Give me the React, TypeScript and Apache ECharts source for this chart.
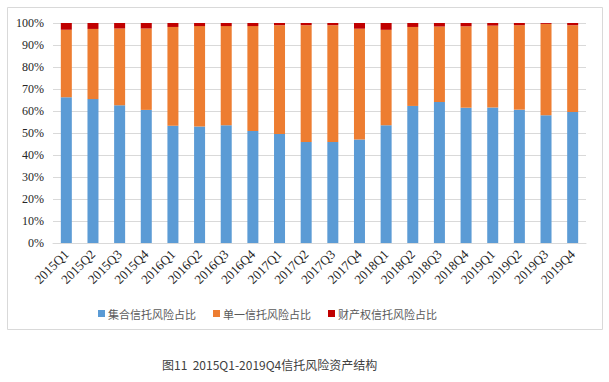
import React, { useEffect, useRef } from "react";
import * as echarts from "echarts";

const categories = [
  "2015Q1", "2015Q2", "2015Q3", "2015Q4",
  "2016Q1", "2016Q2", "2016Q3", "2016Q4",
  "2017Q1", "2017Q2", "2017Q3", "2017Q4",
  "2018Q1", "2018Q2", "2018Q3", "2018Q4",
  "2019Q1", "2019Q2", "2019Q3", "2019Q4",
];
const collective = [66.3, 65.4, 62.6, 60.5, 53.3, 52.9, 53.5, 50.9, 49.5, 45.9, 45.9, 47.1, 53.5, 62.3, 64.1, 61.5, 61.6, 60.6, 58.1, 59.6];
const single = [30.6, 31.9, 34.9, 37.0, 44.9, 45.7, 45.1, 47.7, 49.5, 53.1, 53.1, 50.3, 43.4, 35.9, 34.3, 37.0, 37.2, 38.4, 41.5, 39.4];
const property = [3.1, 2.7, 2.5, 2.5, 1.8, 1.4, 1.4, 1.4, 1.0, 1.0, 1.0, 2.6, 3.1, 1.8, 1.6, 1.5, 1.2, 1.0, 0.4, 1.0];
const seriesNames = ["集合信托风险占比", "单一信托风险占比", "财产权信托风险占比"];
const yTicks = { min: 0, max: 100, interval: 10 };
const caption = "图11  2015Q1-2019Q4信托风险资产结构";

export default function App() {
  const ref = useRef<HTMLDivElement>(null);
  useEffect(() => {
    document.body.style.margin = "0";
    const chart = echarts.init(ref.current!, null, { renderer: "svg" });
    const colors = ["#5B9BD5", "#ED7D31", "#C00000"];
    const datas = [collective, single, property];
    chart.setOption({
      animation: false,
      backgroundColor: "#ffffff",
      color: colors,
      grid: { left: 53, right: 23, top: 23, bottom: 139 },
      legend: {
        left: 93,
        top: 303,
        itemWidth: 7,
        itemHeight: 7,
        itemGap: 17,
        icon: "rect",
        textStyle: { fontFamily: "Noto Sans CJK SC", fontSize: 11, color: "#595959", padding: [0, 0, 0, -2] },
        data: seriesNames,
      },
      xAxis: {
        type: "category",
        data: categories,
        axisLine: { lineStyle: { color: "#d9d9d9" } },
        axisTick: { show: false },
        axisLabel: {
          rotate: 45,
          interval: 0,
          fontFamily: "Liberation Serif",
          fontSize: 13,
          color: "#262626",
          margin: 9,
        },
      },
      yAxis: {
        type: "value",
        min: yTicks.min,
        max: yTicks.max,
        interval: yTicks.interval,
        axisLine: { show: false },
        axisTick: { show: false },
        splitLine: { lineStyle: { color: "#d9d9d9" } },
        axisLabel: {
          formatter: "{value}%",
          fontFamily: "Liberation Serif",
          fontSize: 12,
          color: "#262626",
          margin: 9,
        },
      },
      series: seriesNames.map((name, i) => ({
        name,
        type: "bar",
        stack: "total",
        barWidth: 11,
        data: datas[i],
        itemStyle: { color: colors[i] },
      })),
      graphic: [
        {
          type: "rect",
          shape: { x: 7.5, y: 7.5, width: 595, height: 322 },
          style: { fill: "none", stroke: "#d9d9d9", lineWidth: 1 },
          silent: true,
        },
        {
          type: "text",
          left: 162,
          top: 358,
          style: {
            text: caption,
            fontFamily: "Noto Sans CJK SC",
            fontSize: 12,
            fill: "#404040",
          },
        },
      ],
    });
    return () => chart.dispose();
  }, []);
  return <div ref={ref} style={{ width: 609, height: 382 }} />;
}
